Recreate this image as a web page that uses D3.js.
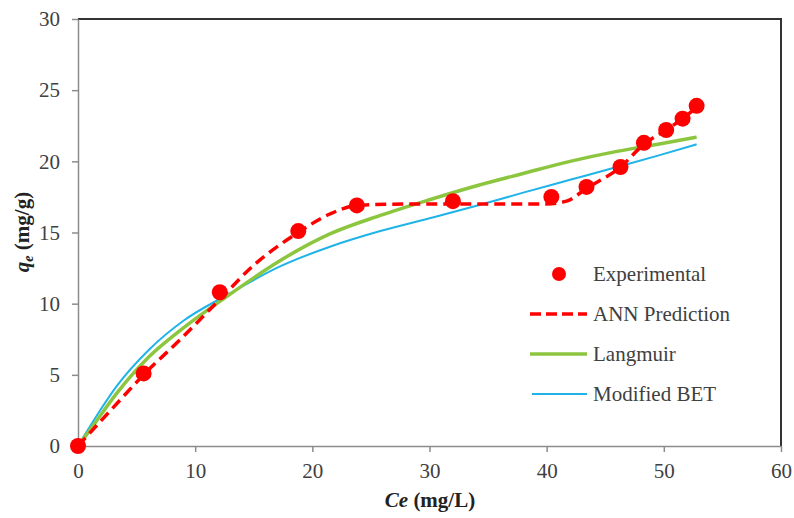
<html>
<head>
<meta charset="utf-8">
<script src="https://d3js.org/d3.v7.min.js"></script>
<style>
    body { margin: 0; background: #fff; }
    .tick text { font-family: "Liberation Serif", "Times New Roman", serif; font-size: 21px; fill: #404040; }
    .axis path, .axis line { stroke: #8c8c8c; stroke-width: 1.5px; }
    .legend text { font-family: "Liberation Serif", serif; font-size: 21px; fill: #404040; }
    .title { font-family: "Liberation Serif", serif; font-size: 21px; font-weight: bold; fill: #222; }
</style>
</head>
<body>
<svg width="794" height="518"></svg>
<script>

    // experimental points
    var expCe = [0, 5.6, 12.1, 18.8, 23.8, 32.0, 40.4, 43.4, 46.3, 48.3, 50.2, 51.6, 52.8];
    var expQe = [0, 5.1, 10.8, 15.1, 16.9, 17.2, 17.5, 18.2, 19.6, 21.3, 22.2, 23.0, 23.9];

    // ANN prediction
    var annCe = [0, 3, 5.6, 9, 12.1, 15, 18.8, 21.5, 23.8, 28, 32, 36, 40, 41.7, 43.4, 46.3, 48.3, 50.2, 51.6, 52.8];
    var annQe = [0, 2.7, 5.0, 7.7, 10.3, 12.7, 15.0, 16.3, 16.9, 17.0, 17.0, 17.0, 17.0, 17.2, 18.1, 19.6, 21.2, 22.2, 23.0, 23.8];

    // Langmuir curve
    var lanCe = [0, 1, 3.3, 6.1, 9, 12.7, 17.2, 21.5, 25.8, 30, 34.1, 38, 42, 46, 49.5, 52.8];
    var lanQe = [0, 1.1, 3.7, 6.3, 8.3, 10.5, 13.0, 14.9, 16.2, 17.3, 18.3, 19.15, 20.0, 20.7, 21.2, 21.7];

    // Modified BET curve
    var betCe = [0, 1.5, 3.3, 6.1, 9, 12.7, 17.2, 21.5, 25.8, 30, 34.1, 38, 42, 46, 49.5, 52.8];
    var betQe = [0, 2.0, 4.2, 6.8, 8.8, 10.6, 12.6, 14.0, 15.1, 16.0, 16.9, 17.8, 18.7, 19.6, 20.4, 21.2];

    var xTicks = [0, 10, 20, 30, 40, 50, 60];
    var yTicks = [0, 5, 10, 15, 20, 25, 30];

    var legendNames = ["Experimental", "ANN Prediction", "Langmuir", "Modified BET"];

    var svg = d3.select("svg");
    var plotL = 78, plotR = 781, plotT = 19, plotB = 446;

    var x = d3.scaleLinear().domain([0, 60]).range([plotL, plotR]);
    var y = d3.scaleLinear().domain([0, 30]).range([plotB, plotT]);

    function zip(a, b) { return a.map(function(v, i) { return [v, b[i]]; }); }

    // frame: dark top and right edges
    svg.append("path")
        .attr("d", "M" + plotL + "," + plotT + "H" + plotR + "V" + plotB)
        .attr("fill", "none")
        .attr("stroke", "#333")
        .attr("stroke-width", 2);

    svg.append("g")
        .attr("class", "axis")
        .attr("transform", "translate(0," + plotB + ")")
        .call(d3.axisBottom(x).tickValues(xTicks).tickSize(6).tickSizeOuter(0).tickPadding(11));

    svg.append("g")
        .attr("class", "axis")
        .attr("transform", "translate(" + plotL + ",0)")
        .call(d3.axisLeft(y).tickValues(yTicks).tickSize(6).tickSizeOuter(0).tickPadding(12));

    var line = d3.line()
        .x(function(d) { return x(d[0]); })
        .y(function(d) { return y(d[1]); })
        .curve(d3.curveMonotoneX);

    svg.append("path")
        .datum(zip(betCe, betQe))
        .attr("d", line)
        .attr("fill", "none")
        .attr("stroke", "#1fb3e8")
        .attr("stroke-width", 2);

    svg.append("path")
        .datum(zip(lanCe, lanQe))
        .attr("d", line)
        .attr("fill", "none")
        .attr("stroke", "#8cc63f")
        .attr("stroke-width", 3.5);

    svg.append("path")
        .datum(zip(annCe, annQe))
        .attr("d", line)
        .attr("fill", "none")
        .attr("stroke", "#ff0000")
        .attr("stroke-width", 3.5)
        .attr("stroke-dasharray", "11,6");

    svg.append("g")
        .selectAll("circle")
        .data(zip(expCe, expQe))
        .enter().append("circle")
        .attr("cx", function(d) { return x(d[0]); })
        .attr("cy", function(d) { return y(d[1]); })
        .attr("r", 8)
        .attr("fill", "#ff0000");

    // legend
    var leg = svg.append("g").attr("class", "legend");
    var rowY = [274, 314, 354, 394];
    leg.append("circle").attr("cx", 559).attr("cy", rowY[0]).attr("r", 7).attr("fill", "#ff0000");
    leg.append("line").attr("x1", 530).attr("x2", 587).attr("y1", rowY[1]).attr("y2", rowY[1])
        .attr("stroke", "#ff0000").attr("stroke-width", 3.5).attr("stroke-dasharray", "11,5");
    leg.append("line").attr("x1", 530).attr("x2", 587).attr("y1", rowY[2]).attr("y2", rowY[2])
        .attr("stroke", "#8cc63f").attr("stroke-width", 3.5);
    leg.append("line").attr("x1", 532).attr("x2", 587).attr("y1", rowY[3]).attr("y2", rowY[3])
        .attr("stroke", "#1fb3e8").attr("stroke-width", 2);
    leg.selectAll("text")
        .data(legendNames)
        .enter().append("text")
        .attr("x", 593)
        .attr("y", function(d, i) { return rowY[i]; })
        .attr("dy", "0.35em")
        .text(function(d) { return d; });

    // axis titles
    var xt = svg.append("text").attr("class", "title")
        .attr("x", 430).attr("y", 507).attr("text-anchor", "middle");
    xt.append("tspan").attr("font-style", "italic").text("Ce");
    xt.append("tspan").text(" (mg/L)");

    var yt = svg.append("text").attr("class", "title")
        .attr("transform", "translate(29,232) rotate(-90)").attr("text-anchor", "middle");
    yt.append("tspan").attr("font-style", "italic").text("q");
    yt.append("tspan").attr("font-style", "italic").attr("font-size", "14px").attr("dy", 4).text("e");
    yt.append("tspan").attr("dy", -4).text(" (mg/g)");

</script>
</body>
</html>
